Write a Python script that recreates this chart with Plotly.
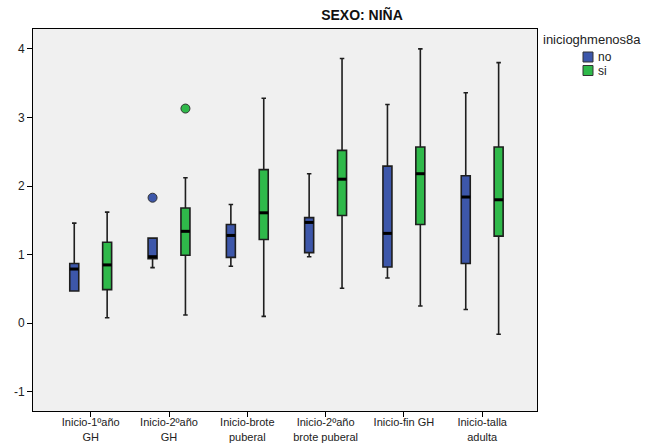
import plotly.graph_objects as go

# Box-plot summary statistics per period, split by inicioghmenos8a
categories = ["Inicio-1ºaño<br>GH", "Inicio-2ºaño<br>GH", "Inicio-brote<br>puberal",
              "Inicio-2ºaño<br>brote puberal", "Inicio-fin GH", "Inicio-talla<br>adulta"]

no_lower = [0.47, 0.81, 0.83, 0.97, 0.66, 0.20]
no_q1 = [0.47, 0.94, 0.96, 1.03, 0.82, 0.87]
no_median = [0.79, 0.97, 1.28, 1.47, 1.31, 1.84]
no_q3 = [0.87, 1.24, 1.44, 1.54, 2.29, 2.15]
no_upper = [1.46, 1.24, 1.73, 2.18, 3.19, 3.36]
no_outlier_cat = [1]
no_outlier_val = [1.83]

si_lower = [0.08, 0.12, 0.10, 0.51, 0.25, -0.16]
si_q1 = [0.49, 0.99, 1.22, 1.57, 1.44, 1.27]
si_median = [0.85, 1.34, 1.61, 2.10, 2.18, 1.80]
si_q3 = [1.18, 1.68, 2.24, 2.52, 2.57, 2.57]
si_upper = [1.62, 2.12, 3.28, 3.86, 4.00, 3.80]
si_outlier_cat = [1]
si_outlier_val = [3.13]

y_ticks = [-1, 0, 1, 2, 3, 4]
legend_title = "inicioghmenos8a"
legend_names = ["no", "si"]

BLUE = "#3d57aa"
GREEN = "#2fb94a"
OFFSET = 0.21
BOX_W = 0.115
W, H = 669, 445

fig = go.Figure()

groups = [
    ("no", BLUE, -OFFSET, no_lower, no_q1, no_median, no_q3, no_upper, no_outlier_cat, no_outlier_val),
    ("si", GREEN, OFFSET, si_lower, si_q1, si_median, si_q3, si_upper, si_outlier_cat, si_outlier_val),
]

for name, color, off, lo, q1, med, q3, up, ocat, oval in groups:
    xs = [i + off for i in range(len(categories))]
    fig.add_trace(go.Box(
        x=xs, q1=q1, median=med, q3=q3, lowerfence=lo, upperfence=up,
        name=name, fillcolor=color, width=BOX_W, whiskerwidth=0.5,
        line=dict(color="#1e1e1e", width=1.6), boxpoints=False,
        showlegend=False,
    ))
    # thick median bars
    mx, my = [], []
    for x, m in zip(xs, med):
        mx += [x - BOX_W / 2, x + BOX_W / 2, None]
        my += [m, m, None]
    fig.add_trace(go.Scatter(x=mx, y=my, mode="lines", line=dict(color="black", width=3),
                             showlegend=False, hoverinfo="skip"))
    # outliers
    fig.add_trace(go.Scatter(
        x=[c + off for c in ocat], y=oval, mode="markers",
        marker=dict(size=9, color=color, line=dict(color="#333333", width=1)),
        showlegend=False, name=name,
    ))

# legend block at the right of the plot
PW, PH = W - 33 - 132, H - 29 - 34
fig.add_annotation(text=legend_title, xref="paper", yref="paper",
                   x=(541 - 33) / PW, y=(H - 34 - 40) / PH,
                   xanchor="left", yanchor="middle", showarrow=False,
                   font=dict(size=13, color="#222222"))
for k, (nm, col) in enumerate(zip(legend_names, [BLUE, GREEN])):
    yc = 57 + 13.5 * k
    fig.add_shape(type="rect", xref="paper", yref="paper",
                  x0=(583 - 33) / PW, x1=(593 - 33) / PW,
                  y0=(H - 34 - yc - 5) / PH, y1=(H - 34 - yc + 5) / PH,
                  fillcolor=col, line=dict(color="#333333", width=1))
    fig.add_annotation(text=nm, xref="paper", yref="paper",
                       x=(596 - 33) / PW, y=(H - 34 - yc) / PH,
                       xanchor="left", yanchor="middle", showarrow=False,
                       font=dict(size=12, color="#222222"))

fig.update_layout(
    width=W, height=H,
    margin=dict(l=33, r=132, t=29, b=34),
    paper_bgcolor="white", plot_bgcolor="#f0f0f0",
    font=dict(family="Liberation Sans, Arial, sans-serif", size=11, color="#222222"),
    title=dict(text="<b>SEXO: NIÑA</b>", x=362 / W, xref="container", xanchor="center",
               y=1 - 15 / H, yref="container", yanchor="middle",
               font=dict(size=14, color="#111111")),
    showlegend=False,
    xaxis=dict(
        range=[-0.737, 5.70], tickmode="array", tickvals=list(range(len(categories))),
        ticktext=categories, showgrid=False, zeroline=False, automargin=False,
        showline=True, linecolor="black", linewidth=1, mirror=True,
        ticks="outside", ticklen=5, tickcolor="black", tickfont=dict(size=11),
        ticklabelstandoff=-4,
    ),
    yaxis=dict(
        range=[-1.28, 4.29], tickmode="array", tickvals=y_ticks,
        ticktext=[str(v) for v in y_ticks], automargin=False,
        showgrid=False, zeroline=False,
        showline=True, linecolor="black", linewidth=1, mirror=True,
        ticks="outside", ticklen=5, tickcolor="black", tickfont=dict(size=12),
    ),
)

fig.write_html("out.html")
